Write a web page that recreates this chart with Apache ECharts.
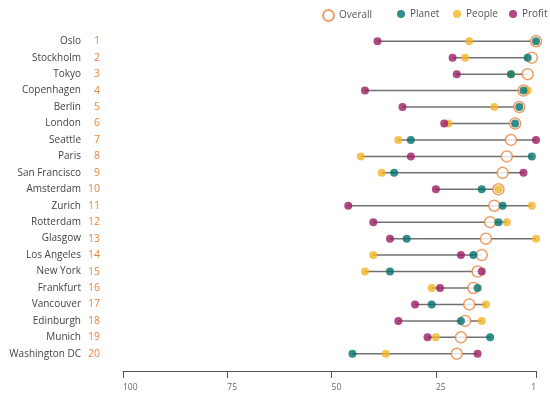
<!DOCTYPE html>
<html>
<head>
<meta charset="utf-8">
<script src="https://cdn.jsdelivr.net/npm/echarts@6/dist/echarts.min.js"></script>
<style>html,body{margin:0;padding:0;background:#fff;}#c{width:550px;height:399px;}</style>
</head>
<body>
<div id="c"></div>
<script>
const cities = ['Oslo','Stockholm','Tokyo','Copenhagen','Berlin','London','Seattle','Paris','San Francisco','Amsterdam','Zurich','Rotterdam','Glasgow','Los Angeles','New York','Frankfurt','Vancouver','Edinburgh','Munich','Washington DC'];
const overall = [1,2,3,4,5,6,7,8,9,10,11,12,13,14,15,16,17,18,19,20];
const planet  = [1,3,7,4,5,6,31,2,35,14,9,10,32,16,36,15,26,19,12,45];
const people  = [17,18,7,3,11,22,34,43,38,10,2,8,1,40,42,26,13,14,25,37];
const profit  = [39,21,20,42,33,23,1,31,4,25,46,40,36,19,14,24,30,34,27,15];
const xTicks  = [1,25,50,75,100];

const FONT = 'Open Sans';
const C_OVERALL = '#e8853f', C_PLANET = '#00726c', C_PEOPLE = '#f2b426', C_PROFIT = '#9a1d62';

const ranges = cities.map((c,i) => {
  const v = [overall[i], planet[i], people[i], profit[i]];
  return [Math.min(...v), Math.max(...v), i];
});
const pts = arr => arr.map((v,i) => [v, i]);

const chart = echarts.init(document.getElementById('c'), null, {renderer:'canvas'});
const legendBase = {top: 4, orient:'horizontal', selectedMode:false, itemGap:5,
  textStyle:{fontFamily:FONT, fontSize:10, color:'#555'}};
chart.setOption({
  animation:false,
  backgroundColor:'#fff',
  legend:[
    Object.assign({}, legendBase, {left:317, data:['Overall'], itemWidth:11, itemHeight:11, icon:'circle'}),
    Object.assign({}, legendBase, {left:392, data:['Planet'], itemWidth:8, itemHeight:8, icon:'circle'}),
    Object.assign({}, legendBase, {left:448, data:['People'], itemWidth:8, itemHeight:8, icon:'circle'}),
    Object.assign({}, legendBase, {left:504, data:['Profit'], itemWidth:8, itemHeight:8, icon:'circle'})
  ],
  grid:{left:123, right:14, top:33, bottom:37, containLabel:false},
  xAxis:{
    type:'value', min:1, max:100, inverse:true, position:'bottom', offset:9,
    splitLine:{show:false},
    axisLine:{show:true, lineStyle:{color:'#555', width:1}},
    axisTick:{show:true, length:7, customValues:xTicks, lineStyle:{color:'#555', width:1}},
    axisLabel:{customValues:xTicks, align:'left', alignMinLabel:'right', margin:12,
      fontFamily:FONT, fontSize:8.5, color:'#666'}
  },
  yAxis:{
    type:'category', data:cities, inverse:true,
    axisLine:{show:false}, axisTick:{show:false}, splitLine:{show:false},
    axisLabel:{
      margin:23, fontFamily:FONT, fontSize:10, color:'#444',
      formatter:(v, i) => '{n|' + v + '}{r|' + overall[i] + '}',
      rich:{
        n:{fontFamily:FONT, fontSize:10, color:'#444', align:'right'},
        r:{fontFamily:FONT, fontSize:10.5, color:C_OVERALL, width:19, align:'right'}
      }
    }
  },
  series:[
    {
      type:'custom', name:'range', z:1, silent:true,
      encode:{x:[0,1], y:2},
      data:ranges,
      renderItem:(params, api) => {
        const p1 = api.coord([api.value(0), api.value(2)]);
        const p2 = api.coord([api.value(1), api.value(2)]);
        return {type:'line', shape:{x1:p1[0], y1:p1[1], x2:p2[0], y2:p2[1]},
          style:{stroke:'#707070', lineWidth:1.5}};
      }
    },
    {type:'scatter', name:'Overall', z:2, symbol:'circle', symbolSize:11, data:pts(overall),
      itemStyle:{color:'#fff', borderColor:C_OVERALL, borderWidth:1.5}},
    {type:'scatter', name:'People', z:3, symbol:'circle', symbolSize:8, data:pts(people),
      itemStyle:{color:C_PEOPLE}},
    {type:'scatter', name:'Profit', z:3, symbol:'circle', symbolSize:8, data:pts(profit),
      itemStyle:{color:C_PROFIT}},
    {type:'scatter', name:'Planet', z:3, symbol:'circle', symbolSize:8, data:pts(planet),
      itemStyle:{color:C_PLANET}}
  ]
});
</script>
</body>
</html>
